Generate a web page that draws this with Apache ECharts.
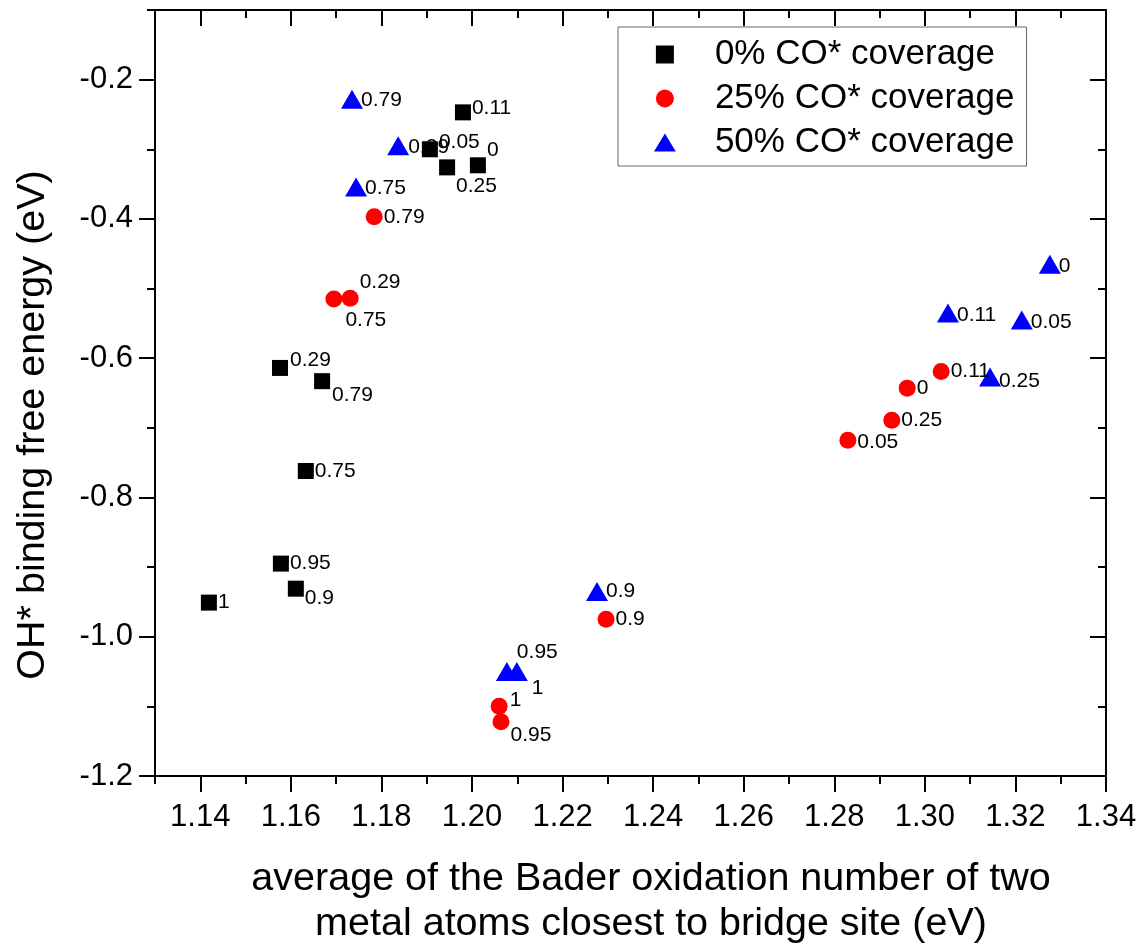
<!DOCTYPE html>
<html><head><meta charset="utf-8">
<script src="https://cdn.jsdelivr.net/npm/echarts@6/dist/echarts.min.js"></script>
<style>html,body{margin:0;padding:0;background:#fff}#c{width:1143px;height:949px}</style>
</head><body><div id="c"></div>
<script>
// ---------- data ----------
const seriesNames = ['0% CO* coverage', '25% CO* coverage', '50% CO* coverage'];
const xTitle = 'average of the Bader oxidation number of two\nmetal atoms closest to bridge site (eV)';
const yTitle = 'OH* binding free energy (eV)';
const xMajorTicks = [1.14, 1.16, 1.18, 1.20, 1.22, 1.24, 1.26, 1.28, 1.30, 1.32, 1.34];
const xMinorTicks = [1.13, 1.15, 1.17, 1.19, 1.21, 1.23, 1.25, 1.27, 1.29, 1.31, 1.33];
const yMajorTicks = [-1.2, -1.0, -0.8, -0.6, -0.4, -0.2];
const yMinorTicks = [-1.1, -0.9, -0.7, -0.5, -0.3, -0.1];

// 0% CO* coverage (black squares)
const co0X = [1.1980, 1.1907, 1.2013, 1.1945, 1.1576, 1.1669, 1.1633, 1.1578, 1.1611, 1.1419];
const co0Y = [-0.247, -0.300, -0.323, -0.326, -0.614, -0.633, -0.762, -0.895, -0.931, -0.951];
const co0Labels = ['0.11', '0.05', '0', '0.25', '0.29', '0.79', '0.75', '0.95', '0.9', '1'];

// 25% CO* coverage (red circles)
const co25X = [1.1784, 1.1695, 1.1731, 1.2296, 1.2060, 1.2064, 1.3036, 1.2961, 1.2927, 1.2830];
const co25Y = [-0.397, -0.515, -0.514, -0.975, -1.100, -1.122, -0.619, -0.643, -0.689, -0.718];
const co25Labels = ['0.79', '0.75', '0.29', '0.9', '1', '0.95', '0.11', '0', '0.25', '0.05'];

// 50% CO* coverage (blue triangles)
const co50X = [1.1735, 1.1837, 1.1744, 1.3276, 1.3051, 1.3214, 1.3144, 1.2276, 1.2077, 1.2099];
const co50Y = [-0.228, -0.295, -0.354, -0.465, -0.535, -0.545, -0.627, -0.935, -1.050, -1.050];
const co50Labels = ['0.79', '0.29', '0.75', '0', '0.11', '0.05', '0.25', '0.9', '0.95', '1'];

// ---------- label placement (layout only) ----------
const co0LabelShift = [[0,-4],[0,-7],[0,-15],[0,19],[1,-8],[1,14],[0,0],[0,0],[0,10],[0,0]];
const co25LabelShift = [[0,0],[2,21],[0,-16],[0,0],[1,-6],[0,14],[0,0],[0,0],[0,0],[0,2]];
const co50LabelShift = [[0,1],[1,1],[0,1],[0,2],[0,2],[0,2],[0,4],[0,0],[1,-19],[6,17]];

const FONT = 'Liberation Sans, Arial, Helvetica, sans-serif';

function buildData(xs, ys, labels, shifts) {
  return xs.map((x, i) => ({
    value: [x, ys[i]],
    name: labels[i],
    label: { offset: shifts[i] }
  }));
}

const axisLineStyle = { show: true, lineStyle: { color: '#000', width: 2 } };
function xAxisPair(position, inside) {
  return [
    { type: 'value', position, min: 1.13, max: 1.34, gridIndex: 0,
      axisLine: axisLineStyle, splitLine: { show: false },
      axisTick: { show: true, inside, length: 16, customValues: xMajorTicks, lineStyle: { color: '#000', width: 2 } },
      axisLabel: position === 'bottom' ? { show: true, customValues: xMajorTicks, margin: 26, fontSize: 31, fontFamily: FONT, color: '#000', formatter: v => v.toFixed(2) } : { show: false } },
    { type: 'value', position, min: 1.13, max: 1.34, gridIndex: 0,
      axisLine: { show: false }, splitLine: { show: false },
      axisTick: { show: true, inside, length: 8, customValues: xMinorTicks, lineStyle: { color: '#000', width: 2 } },
      axisLabel: { show: false } }
  ];
}
function yAxisPair(position, inside) {
  return [
    { type: 'value', position, min: -1.2, max: -0.1, gridIndex: 0,
      axisLine: axisLineStyle, splitLine: { show: false },
      axisTick: { show: true, inside, length: 16, customValues: yMajorTicks, lineStyle: { color: '#000', width: 2 } },
      axisLabel: position === 'left' ? { show: true, customValues: yMajorTicks, margin: 22, fontSize: 31, fontFamily: FONT, color: '#000', formatter: v => v.toFixed(1) } : { show: false } },
    { type: 'value', position, min: -1.2, max: -0.1, gridIndex: 0,
      axisLine: { show: false }, splitLine: { show: false },
      axisTick: { show: true, inside, length: 8, customValues: yMinorTicks, lineStyle: { color: '#000', width: 2 } },
      axisLabel: { show: false } }
  ];
}

const labelBase = { show: true, position: 'right', fontSize: 21, fontFamily: FONT, color: '#000', formatter: p => p.name };

const chart = echarts.init(document.getElementById('c'), null, { renderer: 'canvas' });
chart.setOption({
  animation: false,
  backgroundColor: '#fff',
  grid: { left: 155, right: 37, top: 10, bottom: 173, containLabel: false },
  xAxis: [...xAxisPair('bottom', false), ...xAxisPair('top', true)],
  yAxis: [...yAxisPair('left', false), ...yAxisPair('right', true)],
  legend: {
    orient: 'vertical', left: 618, top: 27,
    padding: [10, 12, 6, 36],
    itemWidth: 90, itemHeight: 18, itemGap: 9,
    borderColor: '#666', borderWidth: 1, backgroundColor: '#fff',
    textStyle: { fontSize: 35, fontFamily: FONT, color: '#000' },
    data: [
      { name: seriesNames[0], icon: 'path://M0,0L16,0L16,16L0,16Z' },
      { name: seriesNames[1], icon: 'circle' },
      { name: seriesNames[2], icon: 'path://M0,19L11.5,0L23,19Z' }
    ]
  },
  graphic: [
    { type: 'text', x: 33, y: 425, rotation: Math.PI / 2,
      style: { text: yTitle, fontSize: 39.5, fontFamily: FONT, fill: '#000', textAlign: 'center', textVerticalAlign: 'middle' } },
    { type: 'text', x: 651, y: 902,
      style: { text: xTitle, fontSize: 39.5, fontFamily: FONT, fill: '#000', textAlign: 'center', textVerticalAlign: 'middle', lineHeight: 45 } }
  ],
  series: [
    { name: seriesNames[2], type: 'scatter', z: 2, xAxisIndex: 0, yAxisIndex: 0,
      symbol: 'triangle', symbolSize: [22, 19], itemStyle: { color: '#0000ff', opacity: 1 },
      label: Object.assign({}, labelBase, { distance: -2 }),
      data: buildData(co50X, co50Y, co50Labels, co50LabelShift) },
    { name: seriesNames[1], type: 'scatter', z: 3, xAxisIndex: 0, yAxisIndex: 0,
      symbol: 'circle', symbolSize: 17, itemStyle: { color: '#ff0000', opacity: 1 },
      label: Object.assign({}, labelBase, { distance: 1 }),
      data: buildData(co25X, co25Y, co25Labels, co25LabelShift) },
    { name: seriesNames[0], type: 'scatter', z: 4, xAxisIndex: 0, yAxisIndex: 0,
      symbol: 'rect', symbolSize: 16, itemStyle: { color: '#000000', opacity: 1 },
      label: Object.assign({}, labelBase, { distance: 1 }),
      data: buildData(co0X, co0Y, co0Labels, co0LabelShift) }
  ]
});
</script></body></html>
